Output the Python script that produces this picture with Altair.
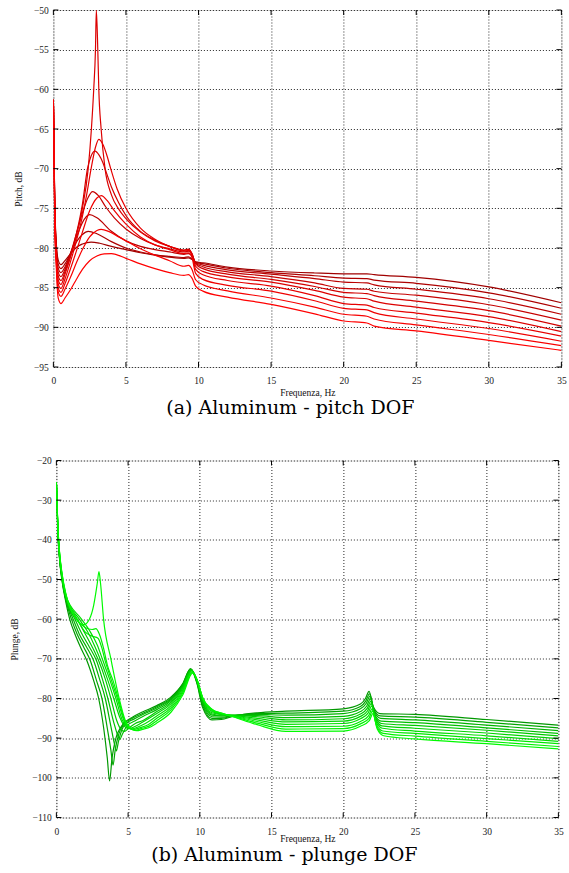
import altair as alt
import pandas as pd

# ---------------- tick values ----------------
X_TICKS = [0, 5, 10, 15, 20, 25, 30, 35]
PITCH_Y_TICKS = [-95, -90, -85, -80, -75, -70, -65, -60, -55, -50]
PLUNGE_Y_TICKS = [-110, -100, -90, -80, -70, -60, -50, -40, -30, -20]

# ---------------- pitch curves (Hz, dB), darkest -> brightest ----------------
PITCH_1 = [(0, -61.3), (0.05, -68.5), (0.1, -74.5), (0.2, -79.3), (0.33, -81.5), (0.52, -82.1), (0.8, -81.6),
           (1.2, -80.7), (1.6, -79.9), (2.0, -79.5), (2.6, -79.25), (3.2, -79.4), (4.0, -79.8), (5.0, -80.2),
           (6.0, -80.6), (7.0, -80.9), (8.0, -81.15), (9.0, -81.3), (9.3, -81.25), (9.55, -81.45), (9.8, -81.75),
           (10.3, -81.86), (12, -82.4), (15, -82.9), (18, -83.15), (20, -83.25), (21.6, -83.25), (22.1, -83.35),
           (25, -83.7), (30, -84.9), (35, -86.9)]
PITCH_2 = [(0, -61.3), (0.05, -68.7), (0.1, -74.8), (0.2, -79.6), (0.33, -82.0), (0.52, -82.6), (0.8, -82.0),
           (1.2, -80.6), (1.6, -79.2), (2.0, -78.3), (2.4, -77.9), (3.0, -78.2), (4.0, -79.2), (5.0, -80.0),
           (6.0, -80.5), (7.0, -80.85), (8.0, -81.05), (9.0, -81.2), (9.3, -81.1), (9.55, -81.35), (9.8, -81.8),
           (10.3, -81.98), (12, -82.55), (15, -83.1), (18, -83.5), (20, -83.8), (21.6, -83.85), (22.1, -84.05),
           (25, -84.45), (30, -85.65), (35, -87.6)]
PITCH_3 = [(0, -61.3), (0.05, -68.9), (0.1, -75.1), (0.2, -79.9), (0.33, -82.5), (0.52, -83.1), (0.8, -82.4),
           (1.2, -80.6), (1.6, -78.6), (2.0, -76.8), (2.5, -75.8), (3.0, -76.2), (4.0, -77.9), (5.0, -79.1),
           (6.0, -79.8), (7.0, -80.2), (8.0, -80.5), (9.0, -80.8), (9.3, -80.7), (9.55, -81.0), (9.8, -81.85),
           (10.3, -82.15), (12, -82.75), (15, -83.3), (18, -83.85), (20, -84.3), (21.6, -84.4), (22.1, -84.65),
           (25, -85.2), (30, -86.4), (35, -88.35)]
PITCH_4 = [(0, -61.3), (0.05, -69.1), (0.1, -75.4), (0.2, -80.2), (0.33, -83.0), (0.52, -83.6), (0.8, -82.7),
           (1.2, -80.6), (1.6, -78.1), (2.0, -75.6), (2.4, -73.6), (2.7, -72.9), (3.1, -73.4), (3.6, -74.8),
           (4.2, -76.2), (5.0, -77.6), (6.0, -78.8), (7.0, -79.6), (8.0, -80.1), (9.0, -80.5), (9.3, -80.4),
           (9.55, -80.8), (9.8, -81.9), (10.3, -82.36), (12, -83.0), (15, -83.6), (18, -84.4), (20, -85.1),
           (21.6, -85.2), (22.1, -85.45), (25, -85.95), (30, -87.15), (35, -89.1)]
PITCH_5 = [(0, -61.3), (0.05, -69.3), (0.1, -75.7), (0.2, -80.5), (0.33, -83.5), (0.52, -84.1), (0.8, -83.0),
           (1.2, -80.9), (1.6, -78.1), (2.0, -74.5), (2.35, -70.0), (2.6, -68.4), (2.87, -67.8), (3.15, -68.3),
           (3.4, -69.2), (3.65, -70.5), (4.0, -72.3), (4.5, -74.3), (5.0, -75.9), (6.0, -77.9), (7.0, -79.0),
           (8.0, -79.8), (9.0, -80.3), (9.3, -80.2), (9.55, -80.7), (9.8, -82.0), (10.3, -82.6), (12, -83.3),
           (15, -83.96), (18, -84.85), (20, -85.6), (21.6, -85.75), (22.1, -86.0), (25, -86.7), (30, -87.9),
           (35, -89.85)]
PITCH_6 = [(0, -61.3), (0.05, -69.5), (0.1, -76.0), (0.2, -80.8), (0.33, -84.0), (0.52, -84.6), (0.8, -83.3),
           (1.2, -81.0), (1.6, -78.3), (2.0, -75.0), (2.4, -70.0), (2.62, -65.0), (2.78, -60.0), (2.9, -55.0),
           (2.96, -50.0), (3.06, -55.0), (3.13, -60.0), (3.29, -65.0), (3.56, -70.0), (4.0, -73.3), (4.5, -75.1),
           (5.0, -76.3), (6.0, -78.0), (7.0, -79.1), (8.0, -79.8), (9.0, -80.25), (9.3, -80.15), (9.55, -80.75),
           (9.8, -82.3), (10.3, -82.95), (12, -83.65), (15, -84.3), (18, -85.35), (20, -86.2), (21.6, -86.4),
           (22.1, -86.7), (25, -87.45), (30, -88.65), (35, -90.55)]
PITCH_7 = [(0, -61.3), (0.05, -69.7), (0.1, -76.3), (0.2, -81.1), (0.33, -84.5), (0.52, -85.1), (0.8, -83.9),
           (1.2, -81.6), (1.6, -79.0), (2.0, -76.0), (2.3, -73.2), (2.6, -70.0), (2.9, -67.3), (3.13, -66.3),
           (3.4, -66.9), (3.7, -68.4), (3.95, -70.0), (4.4, -72.6), (5.0, -75.0), (6.0, -77.5), (7.0, -78.9),
           (8.0, -79.8), (9.0, -80.4), (9.3, -80.3), (9.55, -80.9), (9.8, -82.7), (10.3, -83.37), (12, -84.1),
           (15, -84.8), (18, -86.0), (20, -87.0), (21.6, -87.2), (22.1, -87.5), (25, -88.2), (30, -89.4),
           (35, -91.1)]
PITCH_8 = [(0, -61.3), (0.05, -69.9), (0.1, -76.6), (0.2, -81.4), (0.33, -85.0), (0.52, -85.6), (0.8, -84.5),
           (1.2, -82.5), (1.6, -80.3), (2.0, -78.0), (2.5, -75.3), (3.0, -73.7), (3.3, -73.4), (3.7, -74.0),
           (4.2, -75.3), (5.0, -77.0), (6.0, -78.6), (7.0, -79.6), (8.0, -80.2), (9.0, -80.7), (9.3, -80.6),
           (9.55, -81.2), (9.8, -83.2), (10.3, -83.96), (12, -84.7), (15, -85.44), (18, -86.65), (20, -87.6),
           (21.6, -87.8), (22.1, -88.15), (25, -88.95), (30, -90.15), (35, -91.75)]
PITCH_9 = [(0, -61.3), (0.05, -70.1), (0.1, -76.9), (0.2, -81.8), (0.33, -85.5), (0.52, -86.1), (0.8, -85.2),
           (1.2, -83.6), (1.6, -81.8), (2.0, -80.2), (2.5, -78.6), (3.0, -77.8), (3.3, -77.65), (3.8, -77.9),
           (4.5, -78.6), (5.0, -79.1), (6.0, -80.1), (7.0, -80.9), (8.0, -81.6), (9.0, -82.3), (9.3, -82.2),
           (9.55, -82.7), (9.8, -84.0), (10.3, -84.63), (12, -85.4), (15, -86.3), (18, -87.45), (20, -88.35),
           (21.6, -88.6), (22.1, -88.95), (25, -89.7), (30, -90.9), (35, -92.3)]
PITCH_10 = [(0, -61.3), (0.05, -70.3), (0.1, -77.3), (0.2, -82.4), (0.33, -86.3), (0.52, -87.0), (0.8, -86.3),
            (1.2, -85.2), (1.6, -83.9), (2.0, -82.7), (2.5, -81.6), (3.0, -81.0), (3.5, -80.75), (4.0, -80.7),
            (5.0, -81.3), (6.0, -82.0), (7.0, -82.6), (8.0, -83.1), (9.0, -83.45), (9.3, -83.35), (9.55, -83.8),
            (9.8, -84.8), (10.3, -85.44), (12, -86.2), (15, -87.1), (18, -88.3), (20, -89.2), (21.6, -89.45),
            (22.1, -89.85), (25, -90.45), (30, -91.65), (35, -92.9)]

# ---------------- plunge curves (Hz, dB), darkest -> brightest ----------------
PLUNGE_1 = [(0, -25.5), (0.1, -38.0), (0.2, -44.0), (0.4, -50.5), (0.65, -55.5), (0.93, -60.0), (1.3, -63.8),
            (1.7, -67.2), (2.13, -70.5), (2.6, -75.5), (2.95, -80.0), (3.3, -87.5), (3.55, -95.0), (3.71, -100.8),
            (3.88, -95.0), (4.15, -90.0), (4.5, -87.2), (4.8, -85.9), (5.3, -84.7), (6.0, -83.4), (7.0, -81.8),
            (8.0, -79.6), (8.8, -76.3), (9.35, -72.5), (9.8, -76.2), (10.2, -82.3), (10.85, -85.4), (11.5, -85.3),
            (12.3, -84.5), (14, -83.6), (16, -83.2), (20, -82.6), (21.2, -81.4), (21.55, -80.0), (21.8, -78.2),
            (22.1, -82.1), (22.55, -83.8), (25, -84.0), (30, -85.3), (35, -86.7)]
PLUNGE_2 = [(0, -25.5), (0.1, -37.8), (0.2, -43.8), (0.4, -50.2), (0.65, -55.0), (1.05, -60.0), (1.45, -63.8),
            (1.9, -67.0), (2.37, -70.5), (2.8, -75.5), (3.18, -80.0), (3.55, -87.5), (3.8, -93.0), (3.95, -96.8),
            (4.1, -93.0), (4.35, -89.0), (4.7, -86.5), (5.3, -85.0), (6.0, -83.8), (7.0, -82.1), (8.0, -79.9),
            (8.8, -76.5), (9.36, -72.55), (9.8, -76.0), (10.2, -81.8), (10.85, -85.0), (11.5, -85.0), (12.3, -84.4),
            (14, -83.8), (16, -83.7), (20, -83.2), (21.2, -82.0), (21.58, -80.6), (21.83, -78.8), (22.13, -82.7),
            (22.58, -84.4), (25, -84.7), (30, -86.0), (35, -87.4)]
PLUNGE_3 = [(0, -25.5), (0.1, -37.6), (0.2, -43.6), (0.4, -50.0), (0.65, -54.8), (1.17, -60.0), (1.6, -63.8),
            (2.1, -67.0), (2.6, -70.5), (3.0, -75.0), (3.41, -80.0), (3.8, -87.0), (4.05, -91.5), (4.18, -93.2),
            (4.32, -91.0), (4.55, -88.0), (4.9, -86.2), (5.4, -85.2), (6.0, -84.1), (7.0, -82.4), (8.0, -80.2),
            (8.8, -76.7), (9.38, -72.6), (9.8, -75.8), (10.2, -81.3), (10.85, -84.6), (11.5, -84.7), (12.3, -84.3),
            (14, -84.0), (16, -84.2), (20, -83.8), (21.2, -82.6), (21.61, -81.2), (21.86, -79.4), (22.16, -83.3),
            (22.61, -85.0), (25, -85.4), (30, -86.7), (35, -88.1)]
PLUNGE_4 = [(0, -25.5), (0.1, -37.4), (0.2, -43.4), (0.4, -49.8), (0.65, -54.6), (1.3, -60.0), (1.75, -63.5),
            (2.3, -67.0), (2.8, -70.5), (3.2, -75.0), (3.59, -80.0), (4.0, -86.0), (4.3, -89.5), (4.42, -90.3),
            (4.6, -89.0), (4.9, -87.0), (5.5, -85.6), (6.0, -84.6), (7.0, -82.8), (8.0, -80.5), (8.8, -76.9),
            (9.4, -72.7), (9.8, -75.6), (10.2, -80.9), (10.85, -84.2), (11.5, -84.4), (12.3, -84.25), (14, -84.3),
            (16, -84.8), (20, -84.5), (21.2, -83.3), (21.64, -81.9), (21.89, -80.1), (22.19, -84.0), (22.64, -85.7),
            (25, -86.1), (30, -87.4), (35, -88.8)]
PLUNGE_5 = [(0, -25.5), (0.1, -37.2), (0.2, -43.2), (0.4, -49.6), (0.65, -54.4), (1.45, -60.0), (1.95, -63.3),
            (2.5, -67.0), (2.95, -70.5), (3.4, -75.0), (3.8, -80.0), (4.2, -85.5), (4.55, -88.0), (4.75, -88.3),
            (5.0, -87.6), (5.5, -86.3), (6.0, -85.6), (7.0, -83.3), (8.0, -80.9), (8.8, -77.2), (9.41, -72.8),
            (9.8, -75.5), (10.2, -80.6), (10.85, -83.9), (11.5, -84.2), (12.3, -84.2), (14, -84.6), (16, -85.4),
            (20, -85.1), (21.2, -83.9), (21.67, -82.5), (21.92, -80.7), (22.22, -84.6), (22.67, -86.3), (25, -86.8),
            (30, -88.0), (35, -89.4)]
PLUNGE_6 = [(0, -25.5), (0.1, -37.0), (0.2, -43.0), (0.4, -49.4), (0.65, -54.2), (1.6, -60.0), (2.15, -63.0),
            (2.7, -67.0), (3.1, -70.5), (3.55, -75.0), (4.0, -80.0), (4.45, -85.0), (4.8, -87.2), (5.05, -87.6),
            (5.4, -87.2), (6.0, -86.0), (7.0, -83.8), (8.0, -81.3), (8.8, -77.5), (9.42, -72.9), (9.8, -75.4),
            (10.2, -80.3), (10.85, -83.6), (11.5, -84.0), (12.3, -84.25), (14, -85.0), (16, -85.9), (20, -85.7),
            (21.2, -84.5), (21.7, -83.1), (21.95, -81.3), (22.25, -85.2), (22.7, -86.9), (25, -87.5), (30, -88.7),
            (35, -90.1)]
PLUNGE_7 = [(0, -25.5), (0.1, -36.8), (0.2, -42.8), (0.4, -49.2), (0.65, -54.0), (1.75, -60.0), (2.3, -62.8),
            (2.85, -66.5), (3.25, -70.5), (3.7, -75.0), (4.15, -80.0), (4.6, -85.5), (5.0, -87.4), (5.25, -87.7),
            (5.6, -87.3), (6.2, -86.3), (7.0, -84.4), (8.0, -81.8), (8.8, -77.9), (9.44, -73.0), (9.8, -75.3),
            (10.2, -80.1), (10.85, -83.3), (11.5, -83.9), (12.3, -84.3), (14, -85.4), (16, -86.5), (20, -86.3),
            (21.2, -85.1), (21.73, -83.7), (21.98, -81.9), (22.28, -85.8), (22.73, -87.5), (25, -88.2), (30, -89.4),
            (35, -90.8)]
PLUNGE_8 = [(0, -25.5), (0.1, -36.6), (0.2, -42.6), (0.4, -49.0), (0.65, -53.8), (1.5, -60.3), (2.0, -63.2),
            (2.5, -64.3), (2.9, -64.8), (3.15, -67.0), (3.4, -70.5), (3.8, -75.0), (4.25, -80.0), (4.7, -85.5),
            (5.1, -87.5), (5.4, -87.8), (5.8, -87.4), (6.4, -86.6), (7.0, -85.0), (8.0, -82.3), (8.8, -78.3),
            (9.46, -73.2), (9.8, -75.2), (10.2, -79.9), (10.85, -83.0), (11.5, -83.8), (12.3, -84.4), (14, -85.8),
            (16, -87.1), (20, -87.0), (21.2, -85.8), (21.76, -84.4), (22.01, -82.6), (22.31, -86.5), (22.76, -88.2),
            (25, -88.8), (30, -90.1), (35, -91.4)]
PLUNGE_9 = [(0, -25.5), (0.1, -36.4), (0.2, -42.4), (0.4, -48.8), (0.65, -53.6), (1.4, -60.0), (2.0, -62.1),
            (2.5, -62.6), (2.75, -62.4), (3.0, -63.8), (3.3, -67.5), (3.55, -71.5), (3.95, -75.5), (4.32, -80.0),
            (4.75, -85.5), (5.2, -87.7), (5.5, -88.0), (5.9, -87.6), (6.5, -86.9), (7.0, -85.6), (8.0, -82.8),
            (8.8, -78.7), (9.48, -73.4), (9.8, -75.2), (10.2, -79.8), (10.85, -82.8), (11.5, -83.7), (12.3, -84.5),
            (14, -86.2), (16, -87.7), (20, -87.6), (21.2, -86.4), (21.79, -85.0), (22.04, -83.2), (22.34, -87.1),
            (22.79, -88.8), (25, -89.5), (30, -90.8), (35, -92.1)]
PLUNGE_10 = [(0, -25.5), (0.1, -36.2), (0.2, -42.2), (0.4, -48.6), (0.65, -53.4), (1.3, -59.5), (1.6, -60.9),
             (1.9, -61.4), (2.3, -60.0), (2.6, -56.5), (2.85, -51.0), (2.97, -48.0), (3.08, -51.0), (3.29, -60.0),
             (3.8, -70.0), (4.38, -80.0), (4.8, -85.5), (5.3, -87.8), (5.6, -88.1), (6.0, -87.8), (6.6, -87.1),
             (7.0, -86.2), (8.0, -83.4), (8.8, -79.2), (9.5, -73.6), (9.8, -75.2), (10.2, -79.8), (10.85, -82.7),
             (11.5, -83.7), (12.3, -84.6), (14, -86.6), (16, -88.3), (20, -88.2), (21.2, -87.0), (21.82, -85.6),
             (22.07, -83.8), (22.37, -87.7), (22.82, -89.4), (25, -90.2), (30, -91.4), (35, -92.7)]

PITCH_CURVES = [PITCH_1, PITCH_2, PITCH_3, PITCH_4, PITCH_5, PITCH_6, PITCH_7, PITCH_8, PITCH_9, PITCH_10]
PLUNGE_CURVES = [PLUNGE_1, PLUNGE_2, PLUNGE_3, PLUNGE_4, PLUNGE_5, PLUNGE_6, PLUNGE_7, PLUNGE_8, PLUNGE_9,
                 PLUNGE_10]

RED_SHADES = ["#a00000", "#ad0000", "#ba0000", "#c60000", "#d20000", "#dc0000", "#e60000", "#ee0000",
              "#f70000", "#ff0000"]
GREEN_SHADES = ["#009800", "#00a600", "#00b300", "#00bf00", "#00ca00", "#00d400", "#00de00", "#00e800",
                "#00f100", "#00fa00"]

LABEL_FONT = "Liberation Serif"


def panel(curves, yticks, ytitle, caption, colors, width, height, cap_dx, cap_offset, ytitle_pad,
          xlabel_pad, xtitle_y, key):
    rows = []
    for k, c in enumerate(curves):
        for i, (f, v) in enumerate(c):
            rows.append({"f": f, "v": v, key: k, "o": i})
    df = pd.DataFrame(rows)

    x_enc = alt.X("f:Q", scale=alt.Scale(domain=[0, 35], nice=False, zero=False),
                  axis=alt.Axis(values=X_TICKS, title="Frequenza, Hz", grid=True, gridDash=[1, 2],
                                gridColor="#000000", gridOpacity=0.85, gridWidth=1, ticks=False, tickSize=0,
                                domain=False, labelFont=LABEL_FONT, labelFontSize=9.5, labelColor="#222222",
                                labelPadding=xlabel_pad, titleFont=LABEL_FONT, titleFontSize=9.5,
                                titleFontWeight="normal", titleColor="#111111", titleY=xtitle_y,
                                titleBaseline="middle", labelFlush=False))
    y_enc = alt.Y("v:Q", scale=alt.Scale(domain=[yticks[0], yticks[-1]], nice=False, zero=False),
                  axis=alt.Axis(values=yticks, title=ytitle, grid=True, gridDash=[1, 2],
                                gridColor="#000000", gridOpacity=0.85, gridWidth=1, ticks=False, tickSize=0,
                                domain=False, labelFont=LABEL_FONT, labelFontSize=9.5, labelColor="#222222",
                                labelPadding=5, titleFont=LABEL_FONT, titleFontSize=9.5,
                                titleFontWeight="normal", titleColor="#111111", titlePadding=ytitle_pad,
                                labelFlush=False))

    lines = alt.Chart(df).mark_line(interpolate="monotone", strokeWidth=1.2, clip=True).encode(
        x=x_enc, y=y_enc,
        color=alt.Color(f"{key}:N", scale=alt.Scale(domain=list(range(len(curves))), range=colors),
                        legend=None),
        order="o:Q",
    )

    xt = pd.DataFrame({"f": X_TICKS})
    yt = pd.DataFrame({"v": yticks})
    tick_style = dict(color="#000000", strokeWidth=1)
    xt_bot = alt.Chart(xt).mark_rule(**tick_style).encode(x=x_enc, y=alt.value(height), y2=alt.value(height - 5))
    xt_top = alt.Chart(xt).mark_rule(**tick_style).encode(x=x_enc, y=alt.value(0), y2=alt.value(5))
    yt_left = alt.Chart(yt).mark_rule(**tick_style).encode(y=y_enc, x=alt.value(0), x2=alt.value(5))
    yt_right = alt.Chart(yt).mark_rule(**tick_style).encode(y=y_enc, x=alt.value(width), x2=alt.value(width - 5))

    return alt.layer(lines, xt_bot, xt_top, yt_left, yt_right).properties(
        width=width, height=height,
        title=alt.TitleParams(caption, orient="bottom", anchor="middle", frame="group", font="DejaVu Serif",
                              fontSize=19, fontWeight="normal", color="#000000", offset=cap_offset, dx=cap_dx,
                              baseline="alphabetic"),
    )


top = panel(PITCH_CURVES, PITCH_Y_TICKS, "Pitch, dB", "(a)  Aluminum - pitch DOF", RED_SHADES,
            508, 357, -17, 17.5, 10, 8, 25, "pc")
bottom = panel(PLUNGE_CURVES, PLUNGE_Y_TICKS, "Plunge, dB", "(b)  Aluminum - plunge DOF", GREEN_SHADES,
               502, 357, -23, 17.5, 12.3, 9, 21, "gc")

chart = alt.vconcat(top, bottom, spacing=35.5, center=True).properties(
    padding={"left": 8, "top": 4, "right": 0, "bottom": 0}
).resolve_scale(color="independent").configure_view(
    stroke="#000000", strokeWidth=1.6
).configure(background="white")

chart.save("out.html", embed_options={"renderer": "svg", "actions": False})
